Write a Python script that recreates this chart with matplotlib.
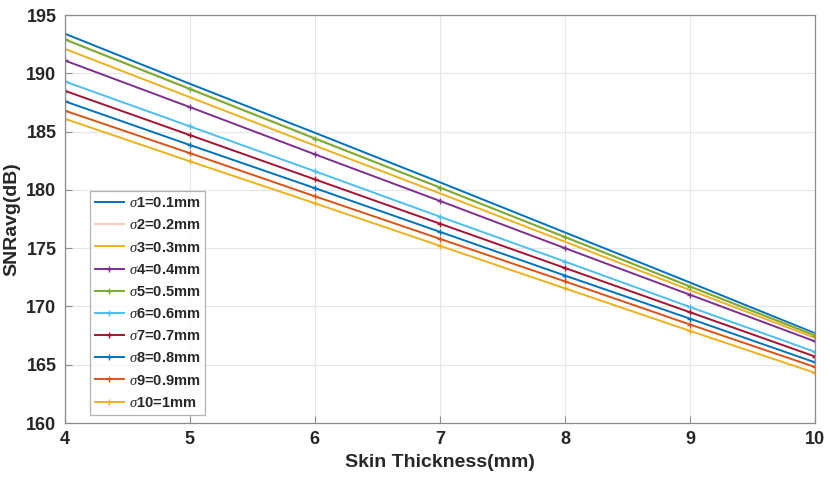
import matplotlib
matplotlib.use("Agg")
import matplotlib.pyplot as plt

plt.rcParams['font.family'] = ['Liberation Sans Narrow', 'Liberation Sans', 'DejaVu Sans']
plt.rcParams['mathtext.fontset'] = 'custom'
plt.rcParams['mathtext.it'] = 'Liberation Serif:italic'

# skin thickness (mm)
thickness = [4, 5, 6, 7, 8, 9, 10]

# SNRavg (dB) per sigma
snr_s1 = [193.4, 189.1, 184.9, 180.65, 176.35, 172.05, 167.7]
snr_s2 = [192.95, 188.7, 184.45, 180.2, 175.95, 171.75, 167.55]
snr_s3 = [192.1, 187.95, 183.8, 179.7, 175.55, 171.4, 167.3]
snr_s4 = [191.1, 187.1, 183.05, 179.05, 175.0, 171.0, 167.0]
snr_s5 = [192.9, 188.65, 184.4, 180.2, 175.95, 171.7, 167.5]
snr_s6 = [189.3, 185.45, 181.6, 177.7, 173.85, 169.95, 166.1]
snr_s7 = [188.5, 184.7, 180.9, 177.1, 173.3, 169.5, 165.7]
snr_s8 = [187.6, 183.85, 180.15, 176.4, 172.65, 168.95, 165.2]
snr_s9 = [186.8, 183.15, 179.45, 175.8, 172.15, 168.45, 164.8]
snr_s10 = [186.1, 182.45, 178.85, 175.2, 171.55, 167.9, 164.3]

labels = [r'$\sigma$1=0.1mm', r'$\sigma$2=0.2mm', r'$\sigma$3=0.3mm', r'$\sigma$4=0.4mm',
          r'$\sigma$5=0.5mm', r'$\sigma$6=0.6mm', r'$\sigma$7=0.7mm', r'$\sigma$8=0.8mm',
          r'$\sigma$9=0.9mm', r'$\sigma$10=1mm']
series = [snr_s1, snr_s2, snr_s3, snr_s4, snr_s5, snr_s6, snr_s7, snr_s8, snr_s9, snr_s10]
colors = ['#0072BD', '#F8C8B8', '#EDB120', '#7E2F8E', '#77AC30',
          '#4DBEEE', '#A2142F', '#0072BD', '#D95319', '#EDB120']
markers = [None, None, None, '+', '+', '+', '+', '+', '+', '+']

fig = plt.figure(figsize=(8.3, 4.84), dpi=100)
ax = fig.add_axes([0.078, 0.126, 0.904, 0.843])

for vals, lab, c, m in zip(series, labels, colors, markers):
    ax.plot(thickness, vals, color=c, lw=1.4, marker=m, markersize=4,
            markeredgewidth=1.0, label=lab)

ax.set_xlim(4, 10)
ax.set_ylim(160, 195)
ax.set_xticks(range(4, 11))
ax.set_yticks(range(160, 196, 5))
ax.grid(True, color='#e6e6e6', lw=0.8)
ax.set_axisbelow(True)
for s in ax.spines.values():
    s.set_color('#8c8c8c')
    s.set_linewidth(0.9)
ax.tick_params(direction='in', length=5, color='#8c8c8c', labelsize=13,
               labelcolor='#262626', pad=6)
for t in ax.get_xticklabels() + ax.get_yticklabels():
    t.set_fontweight('bold')

ax.set_xlabel('Skin Thickness(mm)', fontsize=14, fontweight='bold', color='#262626', labelpad=4)
ax.set_ylabel('SNRavg(dB)', fontsize=14, fontweight='bold', color='#262626', labelpad=4)

leg = ax.legend(loc='lower left', bbox_to_anchor=(0.033, 0.02),
                prop={'weight': 'bold', 'size': 10.5}, frameon=True, fancybox=False,
                edgecolor='#a0a0a0', handlelength=2.0, handletextpad=0.35,
                labelspacing=0.56, borderpad=0.35, borderaxespad=0)
leg.get_frame().set_linewidth(0.9)
for t in leg.get_texts():
    t.set_color('#262626')

fig.savefig('out.png', dpi=100)
